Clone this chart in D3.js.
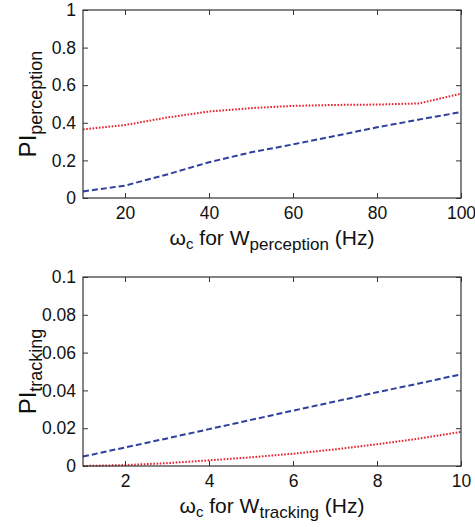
<!DOCTYPE html>
<html>
<head>
<meta charset="utf-8">
<script src="https://cdn.jsdelivr.net/npm/d3@7"></script>
<style>
  body { margin: 0; background: #fff; }
  svg text { font-family: "Liberation Sans", Arial, sans-serif; fill: #111; }
</style>
</head>
<body>
<svg id="chart" width="475" height="527"></svg>
<script>
// top panel: cutoff for W_perception (Hz)
var percX = [10, 20, 30, 40, 50, 60, 70, 80, 90, 100];
var percRed = [0.365, 0.388, 0.428, 0.460, 0.478, 0.490, 0.495, 0.497, 0.503, 0.555];
var percBlue = [0.035, 0.066, 0.125, 0.190, 0.243, 0.285, 0.330, 0.376, 0.417, 0.457];
var percXTicks = [20, 40, 60, 80, 100];
var percYTicks = [0, 0.2, 0.4, 0.6, 0.8, 1];

// bottom panel: cutoff for W_tracking (Hz)
var trackX = [1, 2, 3, 4, 5, 6, 7, 8, 9, 10];
var trackRed = [0.0, 0.0005, 0.0015, 0.003, 0.0046, 0.0065, 0.0088, 0.0115, 0.0145, 0.018];
var trackBlue = [0.005, 0.0098, 0.0146, 0.0195, 0.0244, 0.0293, 0.0341, 0.039, 0.0437, 0.0485];
var trackXTicks = [2, 4, 6, 8, 10];
var trackYTicks = [0, 0.02, 0.04, 0.06, 0.08, 0.1];

var svg = d3.select('#chart');

function panel(opts) {
  var x = d3.scaleLinear().domain(opts.xDomain).range([83, 461]);
  var y = d3.scaleLinear().domain(opts.yDomain).range([opts.bottom, opts.top]);
  var g = svg.append('g');

  var line = d3.line()
    .x(function(d) { return x(d[0]); })
    .y(function(d) { return y(d[1]); });

  g.append('path')
    .datum(opts.xs.map(function(v, i) { return [v, opts.blue[i]]; }))
    .attr('d', line)
    .attr('fill', 'none')
    .attr('stroke', '#2f3f9c')
    .attr('stroke-width', 2)
    .attr('stroke-dasharray', '6,3');

  g.append('path')
    .datum(opts.xs.map(function(v, i) { return [v, opts.red[i]]; }))
    .attr('d', line)
    .attr('fill', 'none')
    .attr('stroke', '#e8212b')
    .attr('stroke-width', 2)
    .attr('stroke-dasharray', '1.6,1.6');

  var fmt = function(d) { return String(+d.toFixed(4)); };

  g.append('g')
    .attr('transform', 'translate(0,' + opts.bottom + ')')
    .call(d3.axisBottom(x).tickValues(opts.xTicks).tickSize(-5).tickPadding(9).tickFormat(fmt))
    .call(function(a) {
      a.select('.domain').remove();
      a.selectAll('line').attr('stroke', '#333');
      a.selectAll('text').attr('font-size', 17.5).attr('fill', '#111');
    });
  g.append('g')
    .attr('transform', 'translate(0,' + opts.top + ')')
    .call(d3.axisTop(x).tickValues(opts.xTicks).tickSize(-5).tickFormat(''))
    .call(function(a) {
      a.select('.domain').remove();
      a.selectAll('line').attr('stroke', '#333');
    });
  g.append('g')
    .attr('transform', 'translate(83,0)')
    .call(d3.axisLeft(y).tickValues(opts.yTicks).tickSize(-5).tickPadding(7).tickFormat(fmt))
    .call(function(a) {
      a.select('.domain').remove();
      a.selectAll('line').attr('stroke', '#333');
      a.selectAll('text').attr('font-size', 17.5).attr('fill', '#111');
    });
  g.append('g')
    .attr('transform', 'translate(461,0)')
    .call(d3.axisRight(y).tickValues(opts.yTicks).tickSize(-5).tickFormat(''))
    .call(function(a) {
      a.select('.domain').remove();
      a.selectAll('line').attr('stroke', '#333');
    });

  g.append('rect')
    .attr('x', 83).attr('y', opts.top)
    .attr('width', 378).attr('height', opts.bottom - opts.top)
    .attr('fill', 'none').attr('stroke', '#333').attr('stroke-width', 1.2);

  // y label
  var yl = g.append('text')
    .attr('transform', 'translate(36,' + ((opts.top + opts.bottom) / 2) + ') rotate(-90)')
    .attr('text-anchor', 'middle')
    .attr('font-size', 24);
  yl.append('tspan').text('PI');
  yl.append('tspan').attr('font-size', 18).attr('dy', 6).text(opts.sub);

  // x label
  var xl = g.append('text')
    .attr('x', 272).attr('y', opts.bottom + 47)
    .attr('text-anchor', 'middle')
    .attr('font-size', 21);
  xl.append('tspan').text('\u03c9');
  xl.append('tspan').attr('font-size', 15).attr('dy', 4).text('c');
  xl.append('tspan').attr('dy', -4).text(' for W');
  xl.append('tspan').attr('font-size', 17).attr('dy', 5).text(opts.sub);
  xl.append('tspan').attr('dy', -5).text(' (Hz)');
}

panel({
  xDomain: [10, 100], yDomain: [0, 1], top: 10, bottom: 198,
  xs: percX, red: percRed, blue: percBlue,
  xTicks: percXTicks, yTicks: percYTicks, sub: 'perception'
});

panel({
  xDomain: [1, 10], yDomain: [0, 0.1], top: 277, bottom: 466,
  xs: trackX, red: trackRed, blue: trackBlue,
  xTicks: trackXTicks, yTicks: trackYTicks, sub: 'tracking'
});
</script>
</body>
</html>
